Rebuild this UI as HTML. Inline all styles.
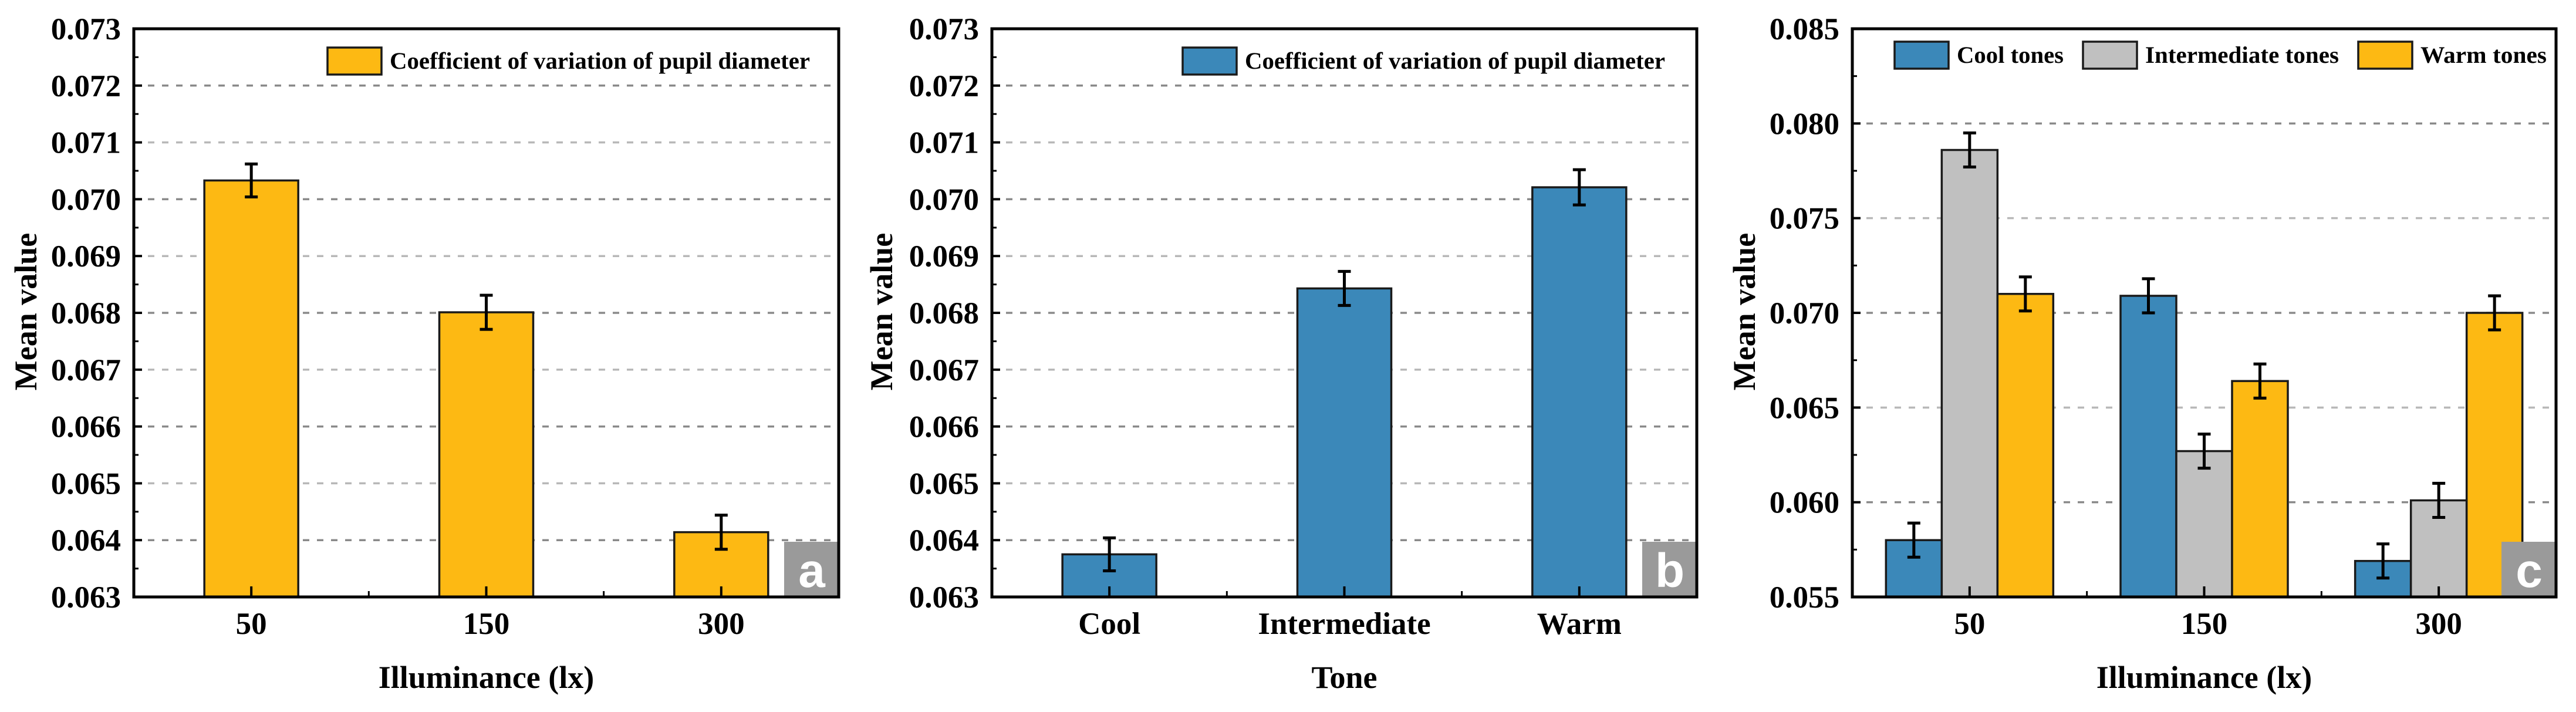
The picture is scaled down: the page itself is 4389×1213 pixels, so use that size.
<!DOCTYPE html>
<html><head><meta charset="utf-8"><style>
html,body{margin:0;padding:0;background:#fff;}
svg{display:block;}
text{font-family:"Liberation Serif",serif;font-weight:bold;fill:#000;}
</style></head><body>
<svg id="chart" width="4389" height="1213" viewBox="0 0 4389 1213" xmlns="http://www.w3.org/2000/svg"></svg>
<script>
// Panel a data
const aCategories = ["50", "150", "300"];
const aValues = [0.07033, 0.06801, 0.06414];
const aErrors = [0.00029, 0.00030, 0.00030];
const aTicks = ["0.063","0.064","0.065","0.066","0.067","0.068","0.069","0.070","0.071","0.072","0.073"];
// Panel b data
const bCategories = ["Cool", "Intermediate", "Warm"];
const bValues = [0.06375, 0.06843, 0.07021];
const bErrors = [0.00029, 0.00030, 0.00031];
const bTicks = ["0.063","0.064","0.065","0.066","0.067","0.068","0.069","0.070","0.071","0.072","0.073"];
// Panel c data
const cCategories = ["50", "150", "300"];
const cSeriesNames = ["Cool tones", "Intermediate tones", "Warm tones"];
const cCool = [0.0580, 0.0709, 0.0569];
const cIntermediate = [0.0786, 0.0627, 0.0601];
const cWarm = [0.0710, 0.0664, 0.0700];
const cCoolErr = [0.0009, 0.0009, 0.0009];
const cIntermediateErr = [0.0009, 0.0009, 0.0009];
const cWarmErr = [0.0009, 0.0009, 0.0009];
const cTicks = ["0.055","0.060","0.065","0.070","0.075","0.080","0.085"];

const NS = "http://www.w3.org/2000/svg";
const svg = document.getElementById('chart');
function mk(tag, attrs, parent, txt) {
  const e = document.createElementNS(NS, tag);
  for (const k in attrs) e.setAttribute(k, attrs[k]);
  if (txt !== undefined) e.textContent = txt;
  (parent || svg).appendChild(e);
  return e;
}

const COLORS = {yellow:"#FDB913", blue:"#3B88B9", gray:"#C0C0C0"};

function panel(opts) {
  const g = mk('g', {});
  
  
  const L = opts.left, R = opts.right, T = 49, B = 1017;
  const tickVals = opts.ticks.map(Number);
  const ymin = tickVals[0], ymax = tickVals[tickVals.length - 1];
  const y = v => B - (v - ymin) / (ymax - ymin) * (B - T);
  const n = opts.categories.length;
  const band = (R - L) / n;
  const xc = i => L + band * (i + 0.5);

  tickVals.forEach((v, i) => {
    if (i === 0 || i === tickVals.length - 1) return;
    const gl = mk('line', {x1: L, x2: R, y1: y(v), y2: y(v), stroke: i % 2 ? "#8a8a8a" : "#b8b8b8", 'stroke-width': 3.5, 'stroke-dasharray': '11 13'}, g);
    
    
  });

  const nS = opts.series.length;
  const bw = opts.barWidth;
  opts.series.forEach((s, si) => {
    s.values.forEach((v, i) => {
      const cx = xc(i) + (si - (nS - 1) / 2) * bw;
      const r = mk('rect', {x: cx - bw / 2, y: y(v), width: bw, height: B - y(v), fill: s.color, stroke: "#1a1a1a", 'stroke-width': 3.5}, g);
      
      
      const e = s.errors[i];
      const eg = mk('g', {stroke: "#000", 'stroke-width': 5}, g);
      
      
      mk('line', {x1: cx, x2: cx, y1: y(v + e), y2: y(v - e)}, eg);
      mk('line', {x1: cx - 11, x2: cx + 11, y1: y(v + e), y2: y(v + e)}, eg);
      mk('line', {x1: cx - 11, x2: cx + 11, y1: y(v - e), y2: y(v - e)}, eg);
    });
  });

  const lb = mk('rect', {x: R - 93, y: 923, width: 93, height: B - 923, fill: "#9a9a9a"}, g);
  
  
  const lt = mk('text', {x: R - 46, y: 1000, 'text-anchor': 'middle', 'font-size': 82, style: 'fill:#fff;font-family:"Liberation Sans",sans-serif;font-weight:bold'}, g, opts.letter);
  
  

  const fr = mk('rect', {x: L, y: T, width: R - L, height: B - T, fill: "none", stroke: "#000", 'stroke-width': 5}, g);
  
  

  tickVals.forEach((v, i) => {
    mk('line', {x1: L, x2: L + 14, y1: y(v), y2: y(v), stroke: "#000", 'stroke-width': 4}, g);
    if (i < tickVals.length - 1) {
      const m = (v + tickVals[i + 1]) / 2;
      mk('line', {x1: L, x2: L + 8, y1: y(m), y2: y(m), stroke: "#000", 'stroke-width': 3}, g);
    }
    const t = mk('text', {x: L - 22, y: y(v) + 18, 'text-anchor': 'end', 'font-size': 53}, g, opts.ticks[i]);
    
    
  });
  opts.categories.forEach((c, i) => {
    mk('line', {x1: xc(i), x2: xc(i), y1: B, y2: B - 18, stroke: "#000", 'stroke-width': 4}, g);
    if (i > 0) mk('line', {x1: L + band * i, x2: L + band * i, y1: B, y2: B - 10, stroke: "#000", 'stroke-width': 3}, g);
    const t = mk('text', {x: xc(i), y: 1080, 'text-anchor': 'middle', 'font-size': 53}, g, c);
    
    
  });

  const xt = mk('text', {x: (L + R) / 2, y: 1172, 'text-anchor': 'middle', 'font-size': 54}, g, opts.xTitle);
  
  
  const ytx = opts.yTitleX;
  const yt = mk('text', {x: ytx, y: 531, 'text-anchor': 'middle', 'font-size': 54, transform: `rotate(-90 ${ytx} 531)`}, g, 'Mean value');
  
  

  opts.legend.forEach(le => {
    const lg = mk('g', {}, g);
    
    
    mk('rect', {x: le.x, y: le.y, width: 92, height: 46, fill: le.color, stroke: "#1a1a1a", 'stroke-width': 3.5}, lg);
    mk('text', {x: le.x + 106, y: le.y + 36, 'font-size': 40, textLength: le.w, lengthAdjust: 'spacingAndGlyphs'}, lg, le.label);
  });
}

panel({name: 'panel-a', left: 228, right: 1429, ticks: aTicks, categories: aCategories, barWidth: 160, letter: 'a',
  xTitle: 'Illuminance (lx)', yTitleX: 62,
  series: [{key: 'cv', color: COLORS.yellow, values: aValues, errors: aErrors}],
  legend: [{x: 558, y: 81, color: COLORS.yellow, label: 'Coefficient of variation of pupil diameter', w: 716}]});

panel({name: 'panel-b', left: 1690, right: 2891, ticks: bTicks, categories: bCategories, barWidth: 160, letter: 'b',
  xTitle: 'Tone', yTitleX: 1520,
  series: [{key: 'cv', color: COLORS.blue, values: bValues, errors: bErrors}],
  legend: [{x: 2015, y: 81, color: COLORS.blue, label: 'Coefficient of variation of pupil diameter', w: 716}]});

panel({name: 'panel-c', left: 3156, right: 4355, ticks: cTicks, categories: cCategories, barWidth: 95, letter: 'c',
  xTitle: 'Illuminance (lx)', yTitleX: 2990,
  series: [
    {key: 'cool', color: COLORS.blue, values: cCool, errors: cCoolErr},
    {key: 'intermediate', color: COLORS.gray, values: cIntermediate, errors: cIntermediateErr},
    {key: 'warm', color: COLORS.yellow, values: cWarm, errors: cWarmErr}],
  legend: [
    {x: 3228, y: 71, color: COLORS.blue, label: cSeriesNames[0], w: 182},
    {x: 3549, y: 71, color: COLORS.gray, label: cSeriesNames[1], w: 330},
    {x: 4018, y: 71, color: COLORS.yellow, label: cSeriesNames[2], w: 215}]});
</script>
</body></html>
